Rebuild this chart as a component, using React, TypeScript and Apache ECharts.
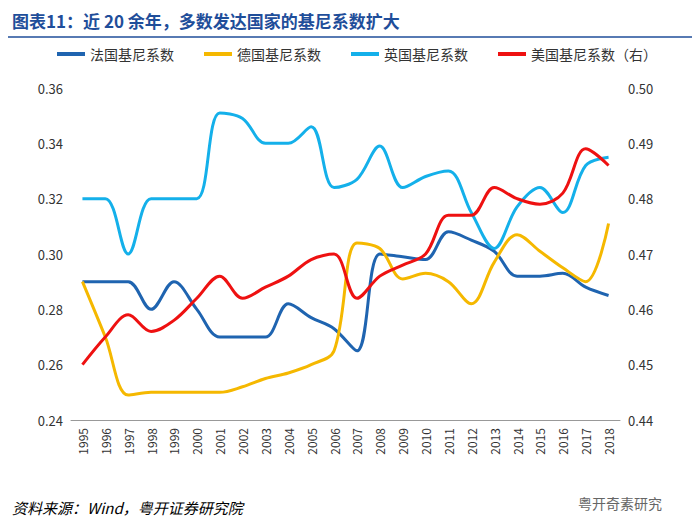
import React, { useEffect, useRef } from "react";
import * as echarts from "echarts";

const years = ["1995","1996","1997","1998","1999","2000","2001","2002","2003","2004","2005","2006","2007","2008","2009","2010","2011","2012","2013","2014","2015","2016","2017","2018"];
const france = [0.29,0.29,0.29,0.28,0.29,0.28,0.27,0.27,0.27,0.282,0.277,0.273,0.265,0.30,0.299,0.298,0.308,0.305,0.301,0.292,0.292,0.293,0.288,0.285];
const germany = [0.29,0.27,0.249,0.25,0.25,0.25,0.25,0.252,0.255,0.257,0.26,0.265,0.304,0.302,0.291,0.293,0.29,0.282,0.297,0.307,0.301,0.295,0.29,0.311];
const uk = [0.32,0.32,0.30,0.32,0.32,0.32,0.351,0.349,0.34,0.34,0.346,0.324,0.327,0.339,0.324,0.328,0.33,0.315,0.302,0.317,0.324,0.315,0.332,0.335];
const us = [0.45,0.455,0.459,0.456,0.458,0.462,0.466,0.462,0.464,0.466,0.469,0.47,0.462,0.466,0.468,0.47,0.477,0.477,0.482,0.48,0.479,0.481,0.489,0.486];

export default function App() {
  const ref = useRef<HTMLDivElement>(null);
  useEffect(() => {
    const chart = echarts.init(ref.current!, null, { renderer: "svg" });
    const font = "Noto Sans CJK SC";
    const mk = (name: string, data: number[], color: string, yAxisIndex = 0) => ({
      name, type: "line", data, smooth: 0.35, showSymbol: false, yAxisIndex,
      lineStyle: { color, width: 3 }, itemStyle: { color },
    });
    chart.setOption({
      animation: false,
      textStyle: { fontFamily: font },
      graphic: [
        { type: "text", left: 4, top: 4, style: { text: "图表11：近 20 余年，多数发达国家的基尼系数扩大", fill: "#1f4e9a", font: `bold 17px '${font}'` } },
        { type: "line", shape: { x1: 0, y1: 29, x2: 684, y2: 29 }, style: { stroke: "#1f4e9a", lineWidth: 1.5 } },
        { type: "text", left: 4, top: 492, style: { text: "资料来源：Wind，粤开证券研究院", fill: "#000", font: `italic 15px '${font}'` } },
        { type: "text", left: 570, top: 488, style: { text: "粤开奇素研究", fill: "#666", font: `14px '${font}'` } },
      ],
      legend: {
        top: 34, left: 44, itemWidth: 28, itemHeight: 4, itemGap: 30,
        icon: "rect", textStyle: { fontSize: 14, color: "#333" },
        data: ["法国基尼系数", "德国基尼系数", "英国基尼系数", "美国基尼系数（右）"],
      },
      grid: { left: 63, right: 72, top: 80, bottom: 102 },
      xAxis: {
        type: "category", data: years, boundaryGap: true,
        axisLabel: { rotate: 90, fontSize: 12, color: "#333" },
        axisTick: { show: false }, axisLine: { lineStyle: { color: "#999" } },
      },
      yAxis: [
        { type: "value", min: 0.24, max: 0.36, interval: 0.02, axisLabel: { formatter: (v: number) => v.toFixed(2), fontSize: 13, color: "#333" }, splitLine: { show: false } },
        { type: "value", min: 0.44, max: 0.5, interval: 0.01, axisLabel: { formatter: (v: number) => v.toFixed(2), fontSize: 13, color: "#333" }, splitLine: { show: false } },
      ],
      series: [
        mk("法国基尼系数", france, "#1f64b0"),
        mk("德国基尼系数", germany, "#f5b800"),
        mk("英国基尼系数", uk, "#14b0ea"),
        mk("美国基尼系数（右）", us, "#ee1111", 1),
      ],
    });
    return () => chart.dispose();
  }, []);
  return <div ref={ref} style={{ width: 684, height: 514 }} />;
}
